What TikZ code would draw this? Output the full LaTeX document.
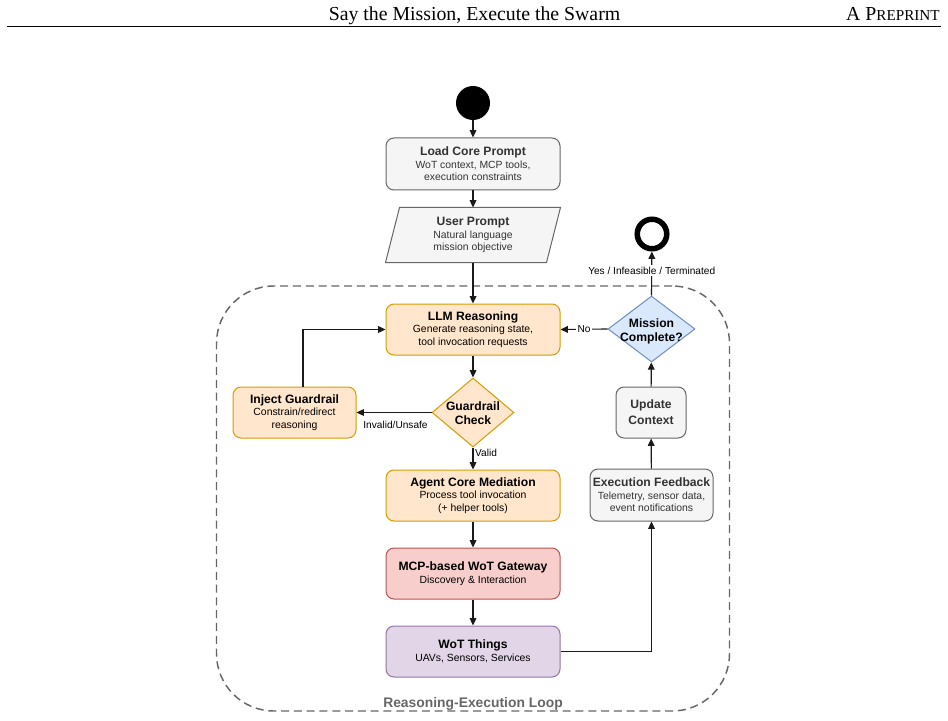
\documentclass[tikz,border=0pt]{standalone}
\usepackage{fontspec}
\setmainfont{Liberation Sans}
\newfontfamily\hdrfont{Liberation Serif}
\usetikzlibrary{shapes.geometric,arrows.meta,backgrounds}
\definecolor{gfill}{HTML}{F5F5F5}
\definecolor{gdraw}{HTML}{666666}
\definecolor{gtext}{HTML}{333333}
\definecolor{ofill}{HTML}{FFE6CC}
\definecolor{odraw}{HTML}{D79B00}
\definecolor{rfill}{HTML}{F8CECC}
\definecolor{rdraw}{HTML}{B85450}
\definecolor{pfill}{HTML}{E1D5E7}
\definecolor{pdraw}{HTML}{9673A6}
\definecolor{bfill}{HTML}{DAE8FC}
\definecolor{bdraw}{HTML}{6C8EBF}
\definecolor{linec}{HTML}{1A1A1A}
\definecolor{loopc}{HTML}{666666}
\newcommand{\ttl}[1]{{\fontsize{9.1}{9.4}\selectfont\bfseries #1}}
\begin{document}
\begin{tikzpicture}[x=0.75pt,y=-0.75pt,
  box/.style={draw, rounded corners=6pt, line width=0.75pt, minimum width=174*0.75pt,
    minimum height=51*0.75pt, align=center, inner sep=2pt,
    font=\fontsize{7.8}{9.4}\selectfont},
  graybox/.style={box, fill=gfill, draw=gdraw, text=gtext},
  orbox/.style={box, fill=ofill, draw=odraw, text=black},
  redbox/.style={box, fill=rfill, draw=rdraw, text=black},
  purbox/.style={box, fill=pfill, draw=pdraw, text=black},
  dia/.style={diamond, line width=0.75pt, inner sep=0pt},
  diatext/.style={align=center, font=\fontsize{9.1}{10.5}\selectfont\bfseries, inner sep=0pt},
  arr/.style={draw=linec, line width=0.85pt, -{Triangle[length=5.5pt,width=5pt]}},
  lbl/.style={font=\fontsize{7.6}{9}\selectfont, text=black, inner sep=1.2pt},
  loopframe/.style={draw=loopc, line width=1.1pt, dash pattern=on 6pt off 3.6pt,
    rounded corners=43pt, inner sep=0pt}
]
\useasboundingbox (0,0) rectangle (948,720);

% header
\node[font=\hdrfont\fontsize{14.85}{16}\selectfont, anchor=base, inner sep=0pt] (hdr) at (474.5,21) {Say the Mission, Execute the Swarm};
\node[font=\hdrfont\fontsize{14.85}{16}\selectfont, anchor=base east, inner sep=0pt] (prep) at (940,21) {A P{\fontsize{11.4}{12}\selectfont REPRINT}};
\draw[line width=1.1pt] (7,26.5) -- (941,26.5);

% loop frame
\node[loopframe, minimum width=513*0.75pt, minimum height=425*0.75pt] (loop) at (473,498.5) {};
\node[font=\fontsize{10.4}{12}\selectfont\bfseries, text=loopc, inner sep=0pt] (looplbl) at (473,704) {Reasoning-Execution Loop};

% nodes
\node[circle, fill=black, minimum size=34*0.75pt, inner sep=0pt] (start) at (473,103) {};
\node[graybox, minimum height=52*0.75pt] (load) at (473,164) {\ttl{Load Core Prompt}\\WoT context, MCP tools,\\execution constraints};
\node[box, draw=none, text=gtext, minimum height=54*0.75pt] (user) at (473,235) {\ttl{User Prompt}\\Natural language\\mission objective};
\begin{pgfonlayer}{background}
\draw[fill=gfill, draw=gdraw, line width=0.75pt] (user.south west) -- ([xshift=-14*0.75pt]user.south east) -- (user.north east) -- ([xshift=14*0.75pt]user.north west) -- cycle;
\end{pgfonlayer}
\node[orbox] (llm) at (473,329.5) {\ttl{LLM Reasoning}\\Generate reasoning state,\\tool invocation requests};
\node[dia, draw=bdraw, fill=bfill, minimum width=87*0.75pt, minimum height=66*0.75pt] (mc) at (651.5,329) {};
\node[diatext] (mct) at (651.5,331) {Mission\\Complete?};
\node[circle, draw=black, line width=5.5*0.75pt, minimum size=29.5*0.75pt, inner sep=0pt] (endc) at (652,234) {};
\node[dia, draw=odraw, fill=ofill, minimum width=82*0.75pt, minimum height=69*0.75pt] (gc) at (473,412.5) {};
\node[diatext] (gct) at (473,413) {Guardrail\\Check};
\node[orbox, minimum width=123*0.75pt] (inj) at (294.5,412.5) {\ttl{Inject Guardrail}\\Constrain/redirect\\reasoning};
\node[orbox] (agent) at (473,495.5) {\ttl{Agent Core Mediation}\\Process tool invocation\\(+ helper tools)};
\node[redbox] (gw) at (473,573.5) {\ttl{MCP-based WoT Gateway}\\Discovery \& Interaction};
\node[purbox] (things) at (473,651.5) {\ttl{WoT Things}\\UAVs, Sensors, Services};
\node[graybox, minimum width=123*0.75pt, minimum height=52*0.75pt, inner sep=1pt] (fb) at (651.5,495) {\ttl{Execution Feedback}\\Telemetry, sensor data,\\event notifications};
\node[graybox, minimum width=70*0.75pt, font=\fontsize{9.1}{12}\selectfont\bfseries] (uc) at (651,412.5) {Update\\Context};

% connectors
\draw[arr] (start) -- (load);
\draw[arr] (load) -- (user);
\draw[arr] (user.south -| llm.north) -- (llm);
\draw[arr] (llm) -- (gc);
\draw[arr] (gc) -- node[lbl, pos=0.25, anchor=west]{Valid} (agent);
\draw[arr] (gc.west) -- node[lbl, below, pos=0.48, yshift=-4.5pt]{Invalid/Unsafe} (inj.east);
\draw[arr] ([xshift=8.5*0.75pt]inj.north) |- (llm.west);
\draw[arr] (agent) -- (gw);
\draw[arr] (gw) -- (things);
\draw[arr] (things.east) -| (fb.south);
\draw[arr] (fb) -- (uc);
\draw[arr] (uc) -- (mc);
\draw[arr] (mc.north) -- node[lbl, fill=white, pos=0.57]{Yes / Infeasible / Terminated} (endc);
\draw[arr] (mc.west) -- node[lbl, fill=white]{No} (llm.east);
\end{tikzpicture}
\end{document}
